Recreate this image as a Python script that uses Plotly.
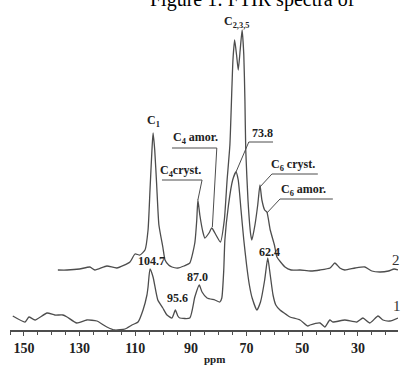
import plotly.graph_objects as go

# ---------------- data (ppm, intensity in chart units) ----------------
ppm1 = [154.0,149.6,148.2,146.0,141.7,138.9,136.0,134.5,131.0,127.4,123.8,120.2,117.3,113.7,111.2,109.0,107.2,105.8,105.4,104.7,
        103.6,101.9,100.1,98.6,96.8,95.6,94.7,94.0,90.4,88.6,87.0,86.0,84.2,81.4,79.6,78.9,78.2,77.8,76.5,75.0,
        73.8,73.0,72.0,71.0,70.0,69.0,68.0,66.3,65.0,63.5,62.4,61.5,60.5,59.5,58.0,55.5,54.4,50.8,48.0,47.2,
        43.6,41.9,40.1,39.0,34.7,30.4,28.2,25.7,22.8,21.0,18.5,15.6]
int1 = [14,8,13,10,17,15,15,13,7,10,9,3,0,1,5,8,20,35,43,61,
        53,30,22,15,12,20,14,12,12,33,45,38,32,30,28,32,60,90,125,150,
        158,150,120,90,65,45,32,20,28,50,72,55,35,25,20,15,13,10,4,5,
        7,3,10,8,10,8,12,7,14,10,9,12]

ppm2 = [137.8,134.5,130.0,126.3,124.5,120.2,116.6,111.9,110.1,108.3,106.5,105.4,104.7,104.0,103.6,103.0,102.3,101.5,100.1,99.3,
        98.0,96.8,94.7,92.5,90.4,88.6,87.9,87.5,86.8,85.7,85.0,83.5,82.5,81.0,79.4,78.0,77.0,76.0,75.3,74.9,
        74.3,73.6,73.0,72.3,71.6,71.0,70.6,70.3,69.5,68.5,68.1,67.0,66.0,65.2,64.5,63.5,62.7,61.5,60.0,59.1,
        56.2,54.0,50.8,47.0,43.6,40.0,38.3,36.5,34.7,31.0,27.5,25.0,22.1,19.0,17.0,15.6]
int2 = [60,60,61,63,60,64,62,68,76,75,80,100,140,180,197,180,145,105,83,70,
        65,63,62,64,67,87,110,130,115,98,92,97,102,95,88,110,150,185,240,270,
        290,275,260,280,300,275,230,180,130,95,90,105,125,145,130,120,118,100,85,73,
        63,60,60,59,60,62,67,62,60,62,63,59,58,59,61,60]

tick_vals = [150, 130, 110, 90, 70, 50, 30]

# peak-value labels (spectrum 1): text, x, y
val_text = ["104.7", "95.6", "87.0", "62.4"]
val_x = [104.0, 94.8, 87.7, 61.6]
val_y = [69, 32, 53, 78]

# assignment labels: text, label x, label y, underline x0, x1, y, leader target (peak) x, y
lab_text = ["C<sub>1</sub>", "C<sub>2,3,5</sub>", "C<sub>4</sub> amor.", "C<sub>4</sub>cryst.",
            "73.8", "C<sub>6</sub> cryst.", "C<sub>6</sub> amor."]
lab_x = [103.3, 73.5, 88.4, 93.6, 64.3, 53.2, 49.6]
lab_y = [209, 308, 192, 159, 197, 165, 140]
ul_x0 = [None, None, 96.8, 100.4, 69.2, 60.9, 58.0]
ul_x1 = [None, None, 80.7, 86.0, 60.5, 44.4, 39.0]
ul_y = [None, None, 182, 150, 188, 156, 131]
ld_from = ["", "", "x1", "x1", "x0", "x0", "x0"]
pk_x = [None, None, 82.3, 87.5, 73.8, 65.2, 62.7]
pk_y = [None, None, 103, 130, 158, 143, 117]

# ---------------- figure ----------------
LINE = "#4d4d4d"
SERIF = "Liberation Serif"

fig = go.Figure()
for xs, ys in [(ppm1, int1), (ppm2, int2)]:
    fig.add_trace(go.Scatter(x=xs, y=ys, mode="lines",
                             line=dict(color=LINE, width=1.3, shape="spline", smoothing=0.5),
                             hoverinfo="skip", showlegend=False))

ann = []
for t, x, y in zip(val_text, val_x, val_y):
    ann.append(dict(x=x, y=y, xref="x", yref="y", text=t, showarrow=False,
                    font=dict(family=SERIF, size=12, color="#222", weight="bold")))
shapes = []
for i, t in enumerate(lab_text):
    ann.append(dict(x=lab_x[i], y=lab_y[i], xref="x", yref="y", text=t, showarrow=False,
                    font=dict(family=SERIF, size=12, color="#222", weight="bold")))
    if ul_x0[i] is not None:
        shapes.append(dict(type="line", xref="x", yref="y", x0=ul_x0[i], x1=ul_x1[i],
                           y0=ul_y[i], y1=ul_y[i], line=dict(color=LINE, width=1)))
        sx = ul_x1[i] if ld_from[i] == "x1" else ul_x0[i]
        shapes.append(dict(type="line", xref="x", yref="y", x0=sx, x1=pk_x[i],
                           y0=ul_y[i], y1=pk_y[i], line=dict(color=LINE, width=1)))

# spectrum numbers
ann.append(dict(x=16.3, y=70, xref="x", yref="y", text="2", showarrow=False,
                font=dict(family=SERIF, size=15, color="#333333")))
ann.append(dict(x=16.0, y=24, xref="x", yref="y", text="1", showarrow=False,
                font=dict(family=SERIF, size=15, color="#333333")))
# axis title
ann.append(dict(x=81.4, y=-0.088, xref="x", yref="paper", yanchor="middle", text="ppm", showarrow=False,
                font=dict(family=SERIF, size=11, color="#222", weight="bold")))
# clipped caption at top
ann.append(dict(x=0.3557, y=1.003, xref="paper", yref="paper", xanchor="left", yanchor="middle",
                text="Figure 1: FTIR spectra of",
                showarrow=False, font=dict(family=SERIF, size=20, color="#000")))

fig.update_layout(
    width=401, height=368,
    margin=dict(l=10, r=3, t=0, b=38),
    paper_bgcolor="white", plot_bgcolor="white",
    annotations=ann, shapes=shapes,
    xaxis=dict(range=[155, 15.6], showgrid=False, zeroline=False, automargin=False,
               showline=True, linecolor=LINE, linewidth=1.5,
               tickmode="array", tickvals=tick_vals,
               ticks="outside", ticklen=4, tickcolor=LINE, tickwidth=1,
               minor=dict(dtick=5, tick0=0, ticks="outside", ticklen=3, tickcolor=LINE),
               tickfont=dict(family=SERIF, size=14, color="#222", weight="bold")),
    yaxis=dict(range=[0, 330], visible=False, fixedrange=True, automargin=False),
)
fig.write_html("out.html", config={"displayModeBar": False},
               post_script="document.body.style.margin='0';document.body.style.overflow='hidden';")
